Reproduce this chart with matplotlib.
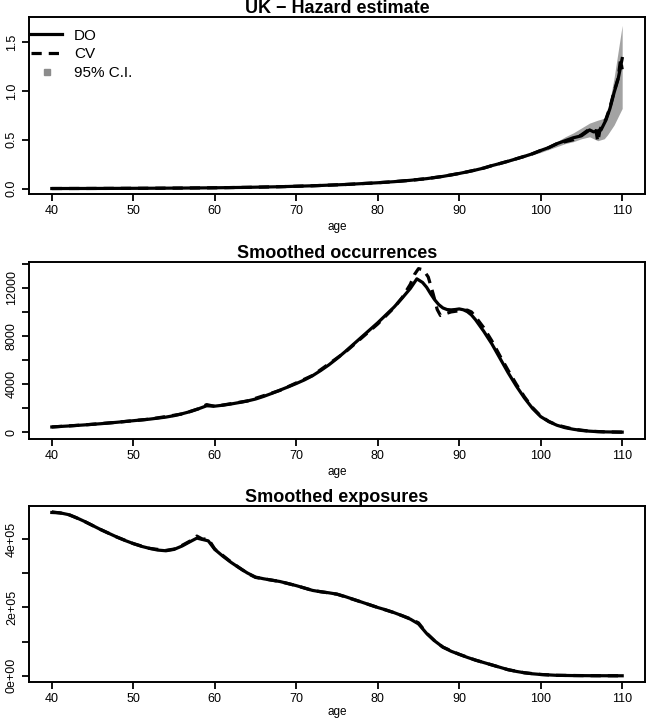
import numpy as np
import matplotlib.pyplot as plt
from matplotlib.lines import Line2D

plt.rcParams['font.family'] = ['Liberation Sans', 'DejaVu Sans']

# hazard estimates (DO and CV) by age
haz_age = [40, 44, 48, 52, 56, 60, 64, 68, 72, 76, 80, 82, 84, 86, 88, 89, 90, 91, 92, 93,
           94, 95, 96, 97, 98, 99, 100, 101, 102, 103, 104, 105, 106, 106.5, 107, 107.4,
           108, 108.5, 109, 109.5, 110]
haz_do = [0.001, 0.0015, 0.0024, 0.0037, 0.0057, 0.0085, 0.013, 0.0195, 0.029, 0.042,
          0.06, 0.071, 0.085, 0.102, 0.125, 0.14, 0.155, 0.172, 0.19, 0.21,
          0.235, 0.257, 0.28, 0.305, 0.33, 0.357, 0.39, 0.42, 0.46, 0.49, 0.52, 0.54, 0.60,
          0.58, 0.59, 0.60, 0.70, 0.82, 0.98, 1.12, 1.33]
cv_age = [40, 44, 48, 52, 56, 60, 64, 68, 72, 76, 80, 82, 84, 86, 88, 89, 90, 91, 92, 93,
          94, 95, 96, 97, 98, 99, 100, 101, 102, 103, 104, 105, 106, 106.8, 107.0, 107.3,
          108, 108.5, 109, 109.5, 109.8, 110]
haz_cv = [0.001, 0.0015, 0.0024, 0.0037, 0.0057, 0.0085, 0.013, 0.0195, 0.029, 0.042,
          0.06, 0.071, 0.085, 0.102, 0.125, 0.14, 0.155, 0.172, 0.19, 0.21,
          0.235, 0.257, 0.28, 0.305, 0.33, 0.357, 0.39, 0.42, 0.46, 0.48, 0.50, 0.55, 0.61,
          0.59, 0.48, 0.61, 0.71, 0.83, 0.99, 1.13, 1.32, 1.22]

# 95% confidence band for the hazard
ci_age = [96, 98, 100, 101, 102, 103, 104, 105, 106, 107, 107.8, 108.2, 109, 110]
ci_low = [0.27, 0.32, 0.37, 0.40, 0.43, 0.46, 0.48, 0.51, 0.53, 0.49, 0.51, 0.55, 0.65, 0.82]
ci_up = [0.29, 0.34, 0.40, 0.44, 0.48, 0.53, 0.57, 0.62, 0.67, 0.70, 0.72, 0.77, 1.13, 1.67]

# smoothed occurrences
occ_age = [40, 42, 44, 46, 48, 50, 52, 54, 55, 56, 57, 58, 59, 60, 61, 62, 63, 64, 65, 66,
           67, 68, 69, 70, 71, 72, 73, 74, 75, 76, 77, 78, 79, 80, 81, 82, 83, 84, 84.8,
           85.5, 86, 86.5, 87, 87.5, 88, 88.5, 89, 89.5, 90, 90.5, 91, 91.5, 92, 93, 94,
           95, 96, 97, 98, 99, 100, 101, 102, 103, 104, 105, 106, 107, 108, 110]
occ_do = [440, 520, 610, 710, 830, 960, 1090, 1260, 1380, 1540, 1720, 1950, 2200, 2170,
          2250, 2350, 2470, 2600, 2760, 2980, 3230, 3500, 3770, 4050, 4350, 4700, 5130,
          5600, 6130, 6700, 7300, 7900, 8500, 9100, 9750, 10400, 11150, 11950, 12750,
          12450, 12050, 11500, 11000, 10600, 10330, 10200, 10170, 10200, 10250, 10180,
          10020, 9750, 9350, 8400, 7350, 6150, 4950, 3850, 2850, 1980, 1300, 880, 580,
          380, 250, 150, 90, 50, 30, 10]
occ_cv_age = [40, 44, 48, 52, 56, 58, 59, 60, 64, 68, 72, 76, 80, 82, 83, 84, 84.5, 85,
              85.6, 86.2, 86.8, 87.3, 87.7, 88.3, 89, 90, 91, 91.5, 92, 93, 94, 95, 96, 97,
              98, 99, 100, 101, 102, 104, 106, 108, 110]
occ_cv = [440, 610, 830, 1090, 1520, 1950, 2300, 2150, 2600, 3480, 4720, 6650, 9000,
          10350, 11200, 12300, 13100, 13600, 13500, 12900, 11500, 10200, 9700, 9850,
          10000, 10100, 10150, 10000, 9600, 8700, 7600, 6350, 5150, 4000, 2950, 2050,
          1350, 900, 600, 260, 90, 30, 10]

# smoothed exposures
exp_age = [40, 41, 42, 43, 44, 45, 46, 47, 48, 49, 50, 51, 52, 53, 54, 55, 56, 57, 57.8,
           58.5, 59.2, 60, 61, 62, 63, 64, 65, 66, 67, 68, 69, 70, 71, 72, 73, 74, 75, 76,
           77, 78, 79, 80, 81, 82, 83, 84, 85, 86, 87, 88, 89, 90, 91, 92, 93, 94, 95, 96,
           97, 98, 99, 100, 102, 104, 106, 110]
exp_do = [4.78e5, 4.77e5, 4.72e5, 4.63e5, 4.52e5, 4.40e5, 4.28e5, 4.17e5, 4.06e5, 3.96e5,
          3.87e5, 3.79e5, 3.73e5, 3.68e5, 3.66e5, 3.70e5, 3.80e5, 3.93e5, 4.03e5, 3.99e5,
          3.95e5, 3.70e5, 3.50e5, 3.32e5, 3.16e5, 3.01e5, 2.89e5, 2.84e5, 2.80e5, 2.76e5,
          2.70e5, 2.64e5, 2.57e5, 2.50e5, 2.46e5, 2.43e5, 2.39e5, 2.32e5, 2.24e5, 2.16e5,
          2.08e5, 2.00e5, 1.93e5, 1.85e5, 1.76e5, 1.66e5, 1.52e5, 1.24e5, 1.02e5, 0.84e5,
          0.72e5, 0.63e5, 0.54e5, 0.46e5, 0.39e5, 0.32e5, 0.25e5, 0.18e5, 0.13e5, 0.09e5,
          0.06e5, 0.04e5, 0.015e5, 0.008e5, 0.005e5, 0.002e5]
exp_cv_age = [40, 42, 44, 46, 48, 50, 52, 54, 55, 56, 57, 57.8, 58.5, 59.2, 60, 62, 64, 65,
              68, 70, 72, 75, 78, 80, 82, 84, 85, 86, 87, 88, 90, 92, 94, 96, 98, 100, 102,
              106, 110]
exp_cv = [4.80e5, 4.73e5, 4.52e5, 4.28e5, 4.06e5, 3.87e5, 3.73e5, 3.67e5, 3.71e5, 3.82e5,
          3.95e5, 4.09e5, 4.00e5, 4.01e5, 3.71e5, 3.33e5, 3.00e5, 2.88e5, 2.76e5, 2.64e5,
          2.50e5, 2.39e5, 2.16e5, 2.00e5, 1.85e5, 1.67e5, 1.55e5, 1.25e5, 1.02e5, 0.84e5,
          0.63e5, 0.46e5, 0.32e5, 0.18e5, 0.09e5, 0.04e5, 0.015e5, 0.005e5, 0.002e5]

LW = 2.3
DASH = (3.2, 2.2)
BAND = '#a3a3a3'

fig = plt.figure(figsize=(6.46, 7.19), dpi=100)
W, H = 646, 719


def panel(top, bottom):
    left, right = 29, 645
    return fig.add_axes([left / W, 1 - bottom / H, (right - left) / W, (bottom - top) / H])


def style(ax, title, labelpad=2.5):
    ax.set_xlim(37.2, 112.8)
    ax.set_xticks([40, 50, 60, 70, 80, 90, 100, 110])
    ax.tick_params(direction='out', length=5, width=1.3, labelsize=9, pad=3)
    for s in ax.spines.values():
        s.set_linewidth(1.4)
    for lab in ax.get_yticklabels():
        lab.set_rotation(90)
        lab.set_va('center')
    ax.set_xlabel('age', fontsize=8.5, labelpad=labelpad)
    ax.set_title(title, fontsize=13, fontweight='bold', pad=3)


# hazard
ax1 = panel(17, 194)
ax1.fill_between(ci_age, ci_low, ci_up, color=BAND, linewidth=0)
ax1.plot(haz_age, haz_do, color='black', lw=LW)
ax1.plot(cv_age, haz_cv, color='black', lw=LW, dashes=DASH)
ax1.set_ylim(-0.055, 1.755)
ax1.set_yticks([0.0, 0.5, 1.0, 1.5])
ax1.set_yticklabels(['0.0', '0.5', '1.0', '1.5'])
style(ax1, 'UK \u2212 Hazard estimate')
handles = [Line2D([], [], color='black', lw=LW),
           Line2D([], [], color='black', lw=LW, dashes=DASH),
           Line2D([], [], color='#8c8c8c', marker='s', ls='none', markersize=5)]
ax1.legend(handles, ['DO', 'CV', '95% C.I.'], loc='upper left', frameon=False,
           fontsize=11, handlelength=2.0, handletextpad=0.8, labelspacing=0.31,
           borderaxespad=0.0, borderpad=0.0, bbox_to_anchor=(0.004, 0.935))

# occurrences
ax2 = panel(262, 439)
ax2.plot(occ_age, occ_do, color='black', lw=LW)
ax2.plot(occ_cv_age, occ_cv, color='black', lw=LW, dashes=DASH)
ax2.set_ylim(-560, 14150)
ax2.set_yticks(np.arange(0, 14001, 2000))
ax2.set_yticklabels(['0', '', '4000', '', '8000', '', '12000', ''])
style(ax2, 'Smoothed occurrences')

# exposures
ax3 = panel(506, 682)
ax3.plot(exp_age, exp_do, color='black', lw=LW)
ax3.plot(exp_cv_age, exp_cv, color='black', lw=LW, dashes=DASH)
ax3.set_ylim(-0.18e5, 4.97e5)
ax3.set_yticks([0, 1e5, 2e5, 3e5, 4e5])
ax3.set_yticklabels(['0e+00', '', '2e+05', '', '4e+05'])
style(ax3, 'Smoothed exposures', labelpad=1.0)

fig.savefig('out.png', dpi=100)
